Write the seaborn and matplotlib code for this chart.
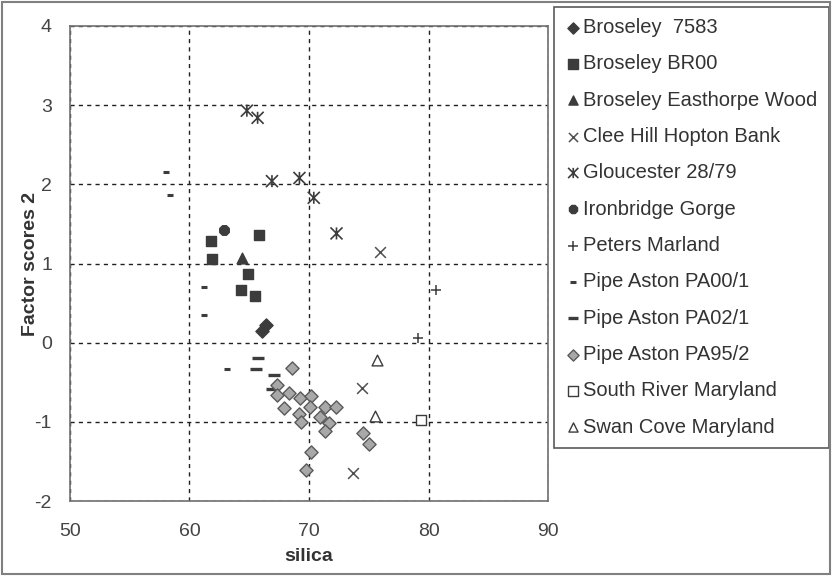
import pandas as pd
import matplotlib.pyplot as plt
import seaborn as sns
from matplotlib.path import Path
from matplotlib.patches import Rectangle

# values (silica vs factor scores 2)
broseley_7583_x = [66.1, 66.4]
broseley_7583_y = [0.15, 0.22]
broseley_br00_x = [61.8, 61.9, 65.8, 64.9, 64.3, 65.5]
broseley_br00_y = [1.28, 1.06, 1.36, 0.87, 0.67, 0.59]
easthorpe_x = [64.4]
easthorpe_y = [1.07]
clee_hill_x = [75.9, 74.4, 73.7]
clee_hill_y = [1.14, -0.57, -1.65]
gloucester_x = [64.8, 65.7, 66.9, 69.2, 70.4, 72.3]
gloucester_y = [2.93, 2.84, 2.04, 2.08, 1.83, 1.38]
ironbridge_x = [62.9]
ironbridge_y = [1.42]
peters_x = [80.6, 79.1]
peters_y = [0.66, 0.06]
pa00_x = [58.0, 58.4, 61.2, 61.2, 63.1]
pa00_y = [2.15, 1.87, 0.70, 0.35, -0.33]
pa02_x = [65.7, 65.6, 67.1, 66.9]
pa02_y = [-0.19, -0.33, -0.41, -0.59]
pa95_x = [68.6, 67.3, 67.35, 68.3, 69.25, 70.2, 70.1, 67.9, 69.2, 69.3,
          71.3, 72.3, 70.9, 71.7, 71.3, 70.2, 69.75, 74.5, 75.05]
pa95_y = [-0.32, -0.54, -0.66, -0.63, -0.70, -0.67, -0.81, -0.82, -0.90, -1.00,
          -0.81, -0.81, -0.94, -1.01, -1.12, -1.38, -1.61, -1.14, -1.28]
south_river_x = [79.4]
south_river_y = [-0.98]
swan_cove_x = [75.7, 75.5]
swan_cove_y = [-0.22, -0.92]

# x with a vertical bar, like the spreadsheet "star" marker
star = Path([(-1, -1), (1, 1), (-1, 1), (1, -1), (0, -1), (0, 1)],
            [Path.MOVETO, Path.LINETO, Path.MOVETO, Path.LINETO,
             Path.MOVETO, Path.LINETO])

dark = '#3c3c3c'
series = [
    ('Broseley  7583', broseley_7583_x, broseley_7583_y, 'D', 45, dark, dark, 1),
    ('Broseley BR00', broseley_br00_x, broseley_br00_y, 's', 60, dark, dark, 1),
    ('Broseley Easthorpe Wood', easthorpe_x, easthorpe_y, '^', 60, dark, dark, 1),
    ('Clee Hill Hopton Bank', clee_hill_x, clee_hill_y, 'x', 60, '#505050', '#505050', 1.1),
    ('Gloucester 28/79', gloucester_x, gloucester_y, star, 75, 'none', dark, 1.2),
    ('Ironbridge Gorge', ironbridge_x, ironbridge_y, '8', 55, dark, dark, 1),
    ('Peters Marland', peters_x, peters_y, '+', 60, dark, dark, 1.1),
    ('Pipe Aston PA00/1', pa00_x, pa00_y, '_', 25, dark, dark, 2.2),
    ('Pipe Aston PA02/1', pa02_x, pa02_y, '_', 65, dark, dark, 2.4),
    ('Pipe Aston PA95/2', pa95_x, pa95_y, 'D', 45, '#a8a8a8', '#5a5a5a', 1),
    ('South River Maryland', south_river_x, south_river_y, 's', 60, 'white', dark, 1),
    ('Swan Cove Maryland', swan_cove_x, swan_cove_y, '^', 60, 'white', dark, 1),
]

sns.set_style('white')
plt.rcParams['font.family'] = ['Liberation Sans', 'DejaVu Sans']

fig = plt.figure(figsize=(8.32, 5.76), dpi=100)
ax = fig.add_axes([0.0841, 0.130, 0.5746, 0.825])

for name, xs, ys, mk, size, fc, ec, lw in series:
    df = pd.DataFrame({'silica': xs, 'score': ys})
    if mk in ('x', '+', '_'):
        sns.scatterplot(data=df, x='silica', y='score', ax=ax, marker=mk, s=size,
                        color=ec, linewidth=lw, label=name, zorder=3)
    else:
        sns.scatterplot(data=df, x='silica', y='score', ax=ax, marker=mk, s=size,
                        facecolor=fc, edgecolor=ec, linewidth=lw, label=name, zorder=3)

ax.set_xlim(50, 90)
ax.set_ylim(-2, 4)
ax.set_xticks([50, 60, 70, 80, 90])
ax.set_yticks([-2, -1, 0, 1, 2, 3, 4])
ax.set_yticklabels(['-2', '-1', '0', '1', '2', '3', '4'])
ax.grid(True, color='#202020', linestyle=(0, (3, 3)), linewidth=1)
for s in ax.spines.values():
    s.set_color('#707070')
    s.set_linewidth(1.2)
ax.tick_params(axis='both', labelsize=14, labelcolor='#444444', color='#707070',
               direction='inout', length=7, width=1)
ax.tick_params(axis='x', pad=12)
ax.tick_params(axis='y', pad=9.5)
ax.set_xlabel('silica', fontsize=14, fontweight='bold', color='#333333', labelpad=6)
ax.set_ylabel('Factor scores 2', fontsize=14, fontweight='bold', color='#333333', labelpad=-3)

leg = ax.legend(loc='upper left', bbox_to_anchor=(0.666, 0.988),
                bbox_transform=fig.transFigure, fontsize=14.5, frameon=True,
                fancybox=False, edgecolor='#303030', labelspacing=0.86,
                handletextpad=0.1, handlelength=0.8, borderpad=0.55,
                borderaxespad=0, markerscale=0.85)
leg.get_frame().set_linewidth(1.2)
for t in leg.get_texts():
    t.set_color('#333333')

# outer chart border
fig.patches.append(Rectangle((0.003, 0.004), 0.994, 0.992, transform=fig.transFigure,
                             fill=False, edgecolor='#808080', linewidth=1.5))

fig.savefig('out.png', dpi=100)
